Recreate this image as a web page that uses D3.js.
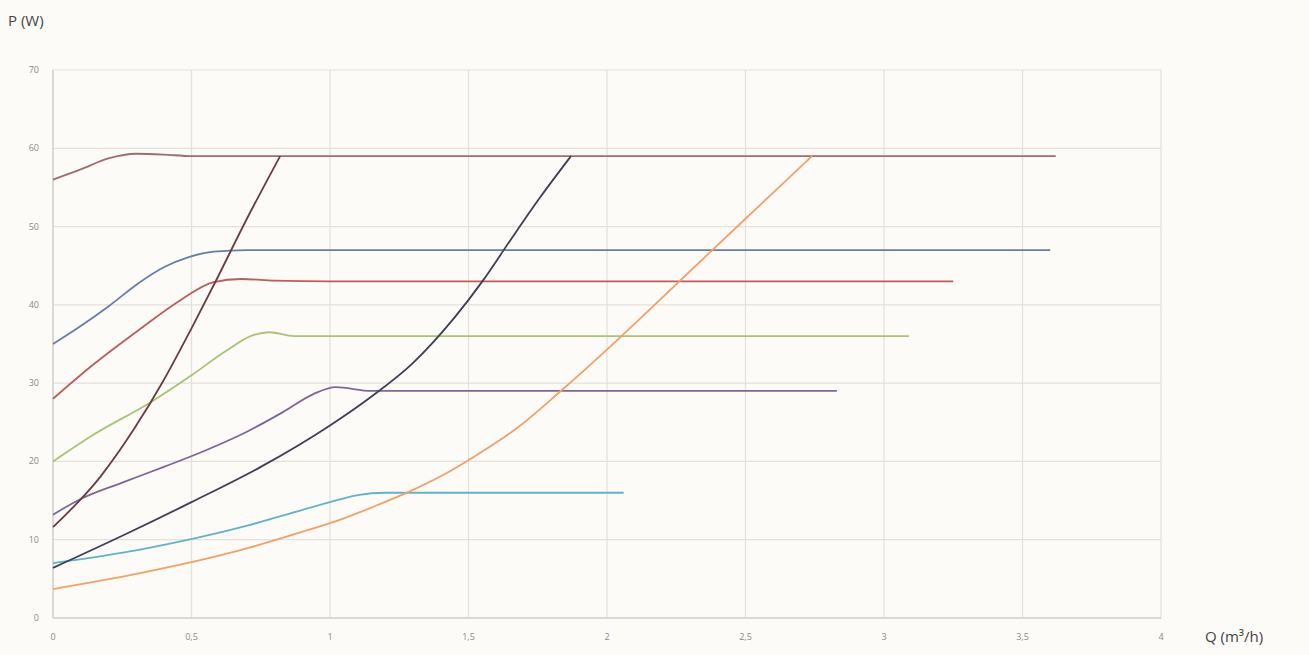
<!DOCTYPE html>
<html><head><meta charset="utf-8">
<script src="https://cdn.jsdelivr.net/npm/d3@7"></script>
<style>body{margin:0;background:#fcfbf8;} svg{display:block;}</style>
</head><body><svg id="c" width="1309" height="655"></svg>
<script>
const xTicks = [0,0.5,1,1.5,2,2.5,3,3.5,4];
const xTickLabels = ["0","0,5","1","1,5","2","2,5","3","3,5","4"];
const yTicks = [0,10,20,30,40,50,60,70];
const yTickLabels = ["0","10","20","30","40","50","60","70"];

const topQ = [0,0.1,0.2,0.3,0.4,0.5,1,3.62];
const topP = [56,57.3,58.7,59.3,59.2,59,59,59];
const blueQ = [0,0.1,0.2,0.31,0.4,0.49,0.58,0.7,1,3.6];
const blueP = [35,37.3,39.8,42.8,44.8,46.1,46.8,47,47,47];
const redQ = [0,0.15,0.31,0.46,0.58,0.68,0.8,1,3.25];
const redP = [28,32.5,36.8,40.6,42.9,43.3,43.1,43,43];
const greenQ = [0,0.15,0.35,0.5,0.62,0.72,0.78,0.87,1,3.09];
const greenP = [20,23.5,27.5,31,34,36.1,36.5,36,36,36];
const purpleQ = [0,0.1,0.25,0.4,0.55,0.7,0.83,0.94,1.02,1.15,2.83];
const purpleP = [13.2,15.2,17.3,19.3,21.4,23.8,26.3,28.6,29.5,29,29];
const cyanQ = [0,0.31,0.49,0.68,0.86,1.0,1.1,1.2,2.06];
const cyanP = [7,8.7,10,11.6,13.4,14.8,15.7,16,16];
const steepQ = [0,0.17,0.29,0.40,0.5,0.58,0.7,0.82];
const steepP = [11.6,18,24,30.4,37,42.5,51,59];
const navyQ = [0,0.25,0.5,0.75,1.0,1.15,1.3,1.45,1.55,1.65,1.76,1.87];
const navyP = [6.4,10.5,14.8,19.3,24.6,28.3,32.6,38.4,43,48.2,53.8,59];
const orangeQ = [0,0.31,0.68,0.89,1.04,1.17,1.29,1.4,1.52,1.68,1.83,2.04,2.19,2.38,2.56,2.74];
const orangeP = [3.7,5.7,8.7,10.9,12.6,14.4,16.2,18.1,20.6,24.4,28.9,35.6,40.6,47,53,59];

const seriesNames = ["top","blue","red","green","purple","cyan","orange","navy","steep"];
const seriesQ = [topQ,blueQ,redQ,greenQ,purpleQ,cyanQ,orangeQ,navyQ,steepQ];
const seriesP = [topP,blueP,redP,greenP,purpleP,cyanP,orangeP,navyP,steepP];
const seriesColors = ["#a46b6b","#6a7cab","#b95e5b","#a9c377","#7e6796","#62b2c8","#f3a06a","#3e3f52","#6b3b42"];

const svg = d3.select("#c");
const L=53, R=1161, T=70, B=618;
const x = d3.scaleLinear().domain([0,4]).range([L,R]);
const y = d3.scaleLinear().domain([0,70]).range([B,T]);

svg.append("rect").attr("width",1309).attr("height",655).attr("fill","#fcfbf8");

// grid
svg.append("g").selectAll("line").data(yTicks).join("line")
  .attr("x1",L).attr("x2",R).attr("y1",d=>y(d)).attr("y2",d=>y(d))
  .attr("stroke","#e4e0dc").attr("stroke-width",1.2);
svg.append("g").selectAll("line").data(xTicks).join("line")
  .attr("y1",T).attr("y2",B).attr("x1",d=>x(d)).attr("x2",d=>x(d))
  .attr("stroke","#e4e0dc").attr("stroke-width",1.2);
// axis lines
svg.append("line").attr("x1",L).attr("x2",L).attr("y1",T).attr("y2",B).attr("stroke","#d6d2ce").attr("stroke-width",1.5);
svg.append("line").attr("x1",L).attr("x2",R).attr("y1",B).attr("y2",B).attr("stroke","#d6d2ce").attr("stroke-width",1.5);

// tick labels
svg.append("g").selectAll("text").data(yTicks).join("text")
  .attr("x",39).attr("y",d=>y(d)+3).attr("text-anchor","end")
  .attr("font-family","Open Sans, sans-serif").attr("font-size",9).attr("fill","#8a8a8a")
  .text((d,i)=>yTickLabels[i]);
svg.append("g").selectAll("text").data(xTicks).join("text")
  .attr("x",d=>x(d)).attr("y",640).attr("text-anchor","middle")
  .attr("font-family","Open Sans, sans-serif").attr("font-size",9).attr("fill","#8a8a8a")
  .text((d,i)=>xTickLabels[i]);

// titles
svg.append("text").attr("x",8).attr("y",26).attr("font-family","Open Sans, sans-serif")
  .attr("font-size",15).attr("fill","#444").text("P (W)");
svg.append("text").attr("x",1205).attr("y",642).attr("font-family","Open Sans, sans-serif")
  .attr("font-size",15).attr("fill","#444").text("Q (m³/h)");

const line = d3.line().x(d=>x(d[0])).y(d=>y(d[1])).curve(d3.curveMonotoneX);
seriesNames.forEach((n,i)=>{
  const pts = seriesQ[i].map((q,j)=>[q,seriesP[i][j]]);
  svg.append("path").datum(pts).attr("d",line).attr("fill","none")
    .attr("stroke",seriesColors[i]).attr("stroke-width",1.8).attr("stroke-linejoin","round");
});
</script></body></html>
